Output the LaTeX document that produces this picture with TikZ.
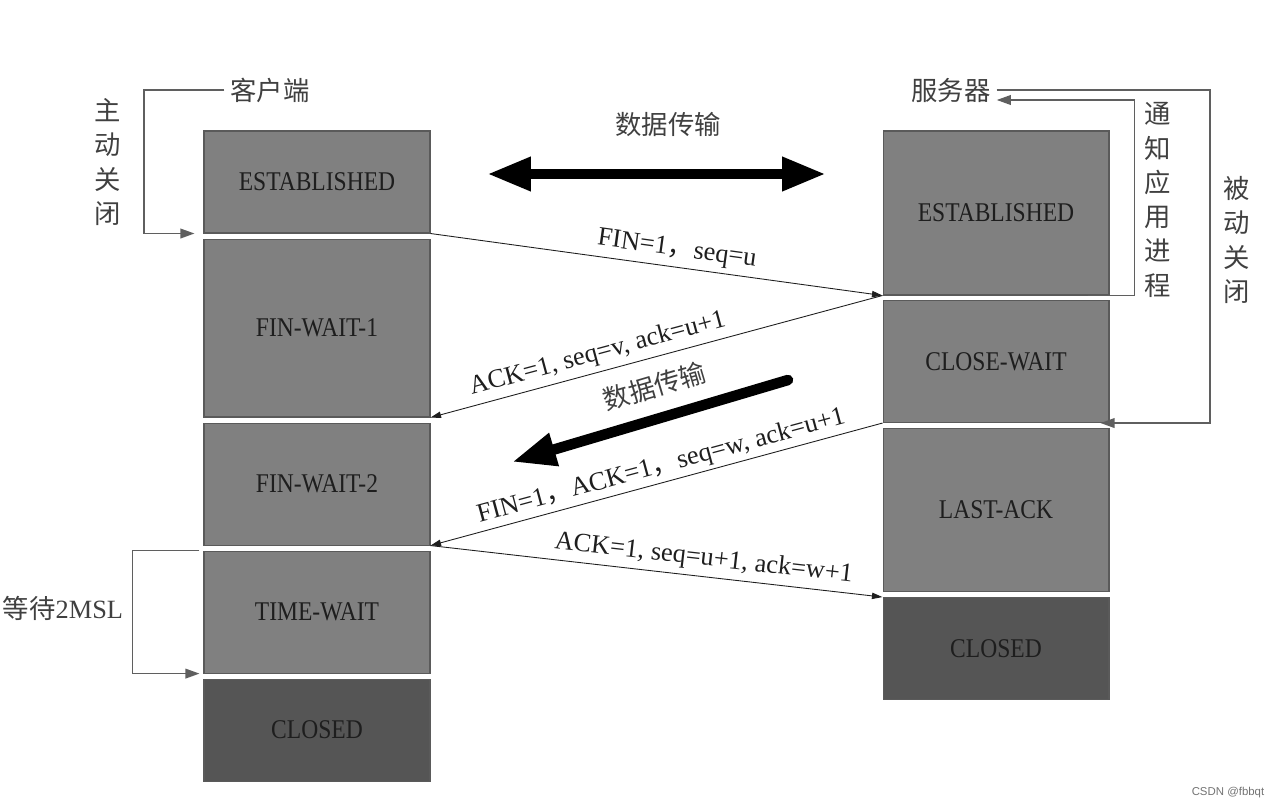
\documentclass[tikz,border=0pt]{standalone}
\usepackage{fontspec}
\setmainfont{Liberation Serif}
\newfontfamily\cjk{Noto Sans CJK SC}
\newfontfamily\statefont[FakeStretch=0.87]{Liberation Serif}
\newfontfamily\marksans{Liberation Sans}
\usetikzlibrary{arrows.meta, positioning}
\definecolor{boxgray}{RGB}{128,128,128}
\definecolor{boxdark}{RGB}{85,85,85}
\definecolor{boxline}{RGB}{90,90,90}
\definecolor{loopgray}{RGB}{95,95,95}
\definecolor{inkdark}{RGB}{30,30,30}

\begin{document}
\begin{tikzpicture}[
  x=0.02cm, y=-0.02cm,
  node distance=0.1cm,
  state/.style={rectangle, minimum width=4.52cm, fill=boxgray, draw=boxline, line width=0.6pt, text=inkdark, font=\statefont\fontsize{15.4}{18}\selectfont},
  closedstate/.style={state, fill=boxdark},
  msg/.style={-{Triangle[length=6pt, width=3.6pt]}, line width=0.5pt, draw=inkdark},
  msglabel/.style={sloped, above=2pt, inner sep=1pt, font=\fontsize{15}{18}\selectfont, text=inkdark},
  loopline/.style={-{Triangle[length=8pt, width=5.5pt]}, line width=0.9pt, draw=loopgray},
  side/.style={font=\cjk\fontsize{15}{18}\selectfont, text=black!75},
  vside/.style={align=center, font=\cjk\fontsize{15}{19.5}\selectfont, text=black!75},
  bigarrow/.style={line width=6pt, -{Triangle[length=25pt, width=18pt]}}
]
  \useasboundingbox (0,0) rectangle (1275,808);

  % client column
  \node[state, minimum height=2.04cm] (cest) at (317,182) {ESTABLISHED};
  \node[state, minimum height=3.56cm, below=of cest] (cfw1) {FIN-WAIT-1};
  \node[state, minimum height=2.44cm, below=of cfw1] (cfw2) {FIN-WAIT-2};
  \node[state, minimum height=2.44cm, below=of cfw2] (ctw) {TIME-WAIT};
  \node[closedstate, minimum height=2.04cm, below=of ctw] (cclosed) {CLOSED};

  % server column
  \node[state, minimum height=3.28cm] (sest) at (996,213) {ESTABLISHED};
  \node[state, minimum height=2.44cm, below=0.09cm of sest] (sclw) {CLOSE-WAIT};
  \node[state, minimum height=3.26cm, below=of sclw] (slack) {LAST-ACK};
  \node[closedstate, minimum height=2.04cm, below=of slack] (sclosed) {CLOSED};

  % side labels
  \node[side] (client) at (270,90) {客户端};
  \node[side] (server) at (951,90) {服务器};
  \node[vside] (active) at (108,162) {主\\动\\关\\闭};
  \node[vside] (notify) at (1158,200) {通\\知\\应\\用\\进\\程};
  \node[vside] (passive) at (1237,240) {被\\动\\关\\闭};
  \node[side] (wait) at (63,608) {等待{\rmfamily 2MSL}};
  \node[side] (datatop) at (668,124) {数据传输};

  % loops
  \draw[loopline] (client.west) -- ++(-80,0) |- ([xshift=-0.18cm]cest.south west);
  \draw[loopline] ([xshift=-0.08cm]ctw.north west) -- ++(-67,0) |- ([xshift=-0.08cm]ctw.south west);
  \draw[loopline] (server.east) -- ++(213,0) |- ([xshift=-0.18cm]sclw.south east);
  \draw[loopline] ([xshift=-0.44cm]sest.south east) -- ++(47,0) |- ([yshift=-0.2cm]server.east);

  % data transfer
  \coordinate (dl) at (487,174);
  \coordinate (dr) at (826,174);
  \draw[bigarrow, {Triangle[length=25pt, width=18pt]}-{Triangle[length=25pt, width=18pt]}] (dl) -- (dr);
  \coordinate (ds) at (788,380);
  \coordinate (de) at (512,462);
  \draw[bigarrow, line cap=round] (ds) -- node[sloped, above=5pt, pos=.45, side] (datamid) {数据传输} (de);

  % messages
  \draw[msg] (cest.south east) -- node[msglabel, pos=.54] {FIN=1{\cjk ，}seq=u} (sest.south west);
  \draw[msg] (sest.south west) -- node[msglabel, pos=.62] {ACK=1, seq=v, ack=u+1} (cfw1.south east);
  \draw[msg] (sclw.south west) -- node[msglabel, pos=.48, above=1pt] {FIN=1{\cjk ，}ACK=1{\cjk ，}seq=w, ack=u+1} (cfw2.south east);
  \draw[msg] (cfw2.south east) -- node[msglabel, pos=.6] {ACK=1, seq=u+1, ack=w+1} (sclosed.north west);

  \node[font=\marksans\fontsize{6.5}{8}\selectfont, text=black!55] (mark) at (1228,793) {CSDN @fbbqt};
\end{tikzpicture}
\end{document}
